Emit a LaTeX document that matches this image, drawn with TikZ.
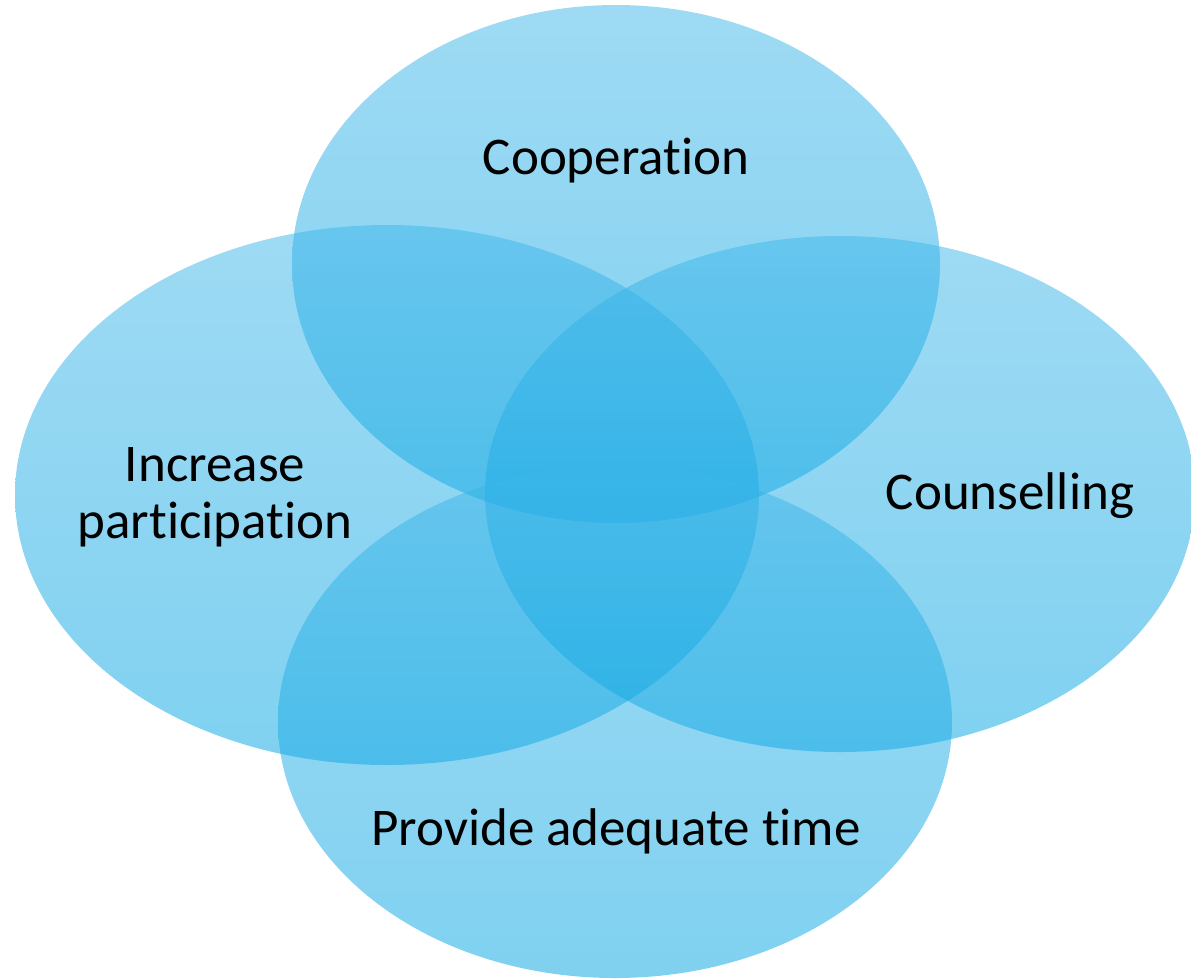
\documentclass[tikz,border=0pt]{standalone}
\usepackage{fontspec}
\setmainfont{Carlito}[Ligatures={NoCommon,NoRare,NoContextual}]
\definecolor{ctop}{RGB}{62,182,233}
\definecolor{cbot}{RGB}{0,163,226}
\begin{document}
\begin{tikzpicture}[x=1pt,y=-1pt,
  blob/.style={top color=ctop,bottom color=cbot,fill opacity=0.5,draw=none},
  lbl/.style={font=\fontsize{53}{57}\selectfont,align=center,text=black,inner sep=0pt}]
\useasboundingbox (0,0) rectangle (1191,978);
\begin{scope}
\clip (0,0) rectangle (1191,978);
\path[blob] (616,264) ellipse [x radius=324,y radius=259];
\path[blob] (387,495) ellipse [x radius=372,y radius=270];
\path[blob] (840,494) ellipse [x radius=355,y radius=258];
\path[blob] (615,722) ellipse [x radius=337,y radius=256];
\end{scope}
\node[lbl] (coop) at (616,161) {Cooperation};
\node[lbl] (incr) at (215,497) {Increase\\participation};
\node[lbl] (couns) at (1010,496) {Counselling};
\node[lbl] (prov) at (616,831) {Provide adequate time};
\end{tikzpicture}
\end{document}
